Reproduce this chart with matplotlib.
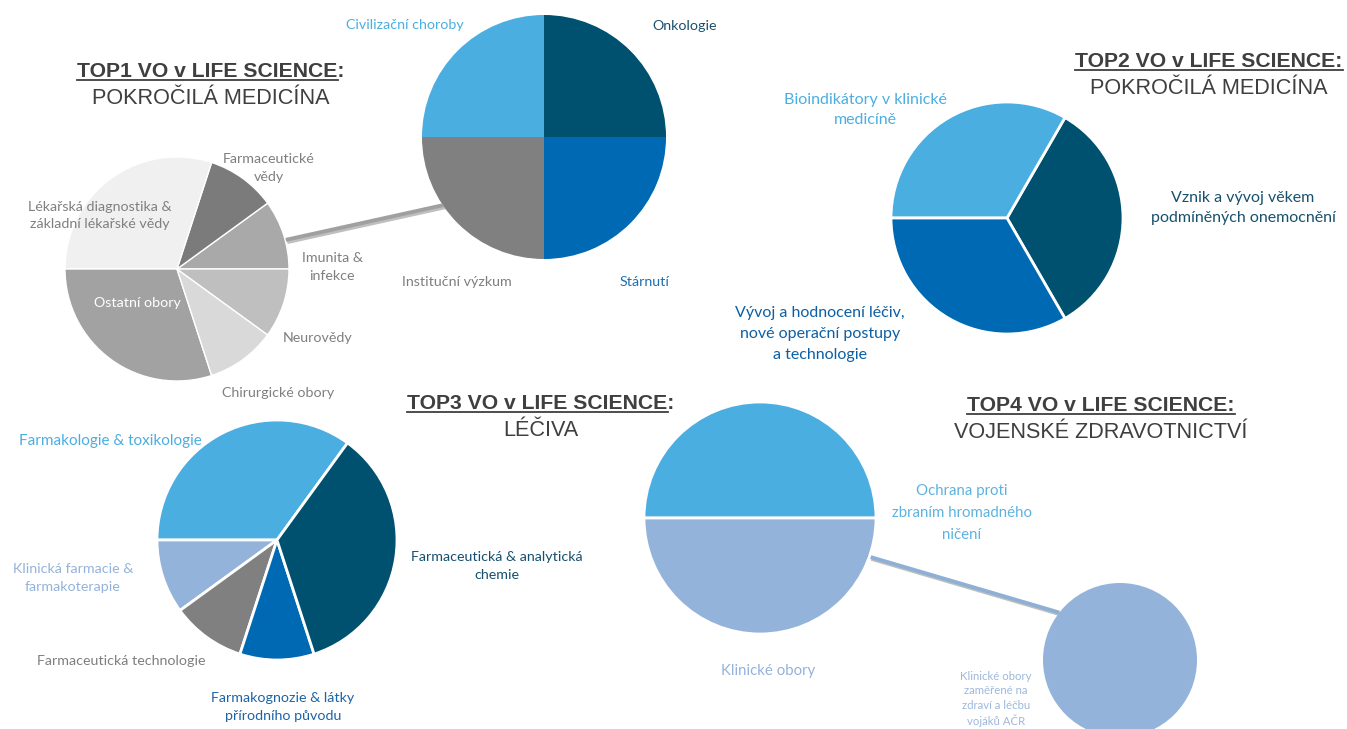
import numpy as np
import matplotlib
matplotlib.use("Agg")
import matplotlib.pyplot as plt
import matplotlib.patheffects as pe

W, H = 1347, 729

# ---- data ----
top1_labels = ["Imunita &\ninfekce", "Farmaceutické\nvědy",
               "Lékařská diagnostika &\nzákladní lékařské vědy",
               "Ostatní obory", "Chirurgické obory", "Neurovědy"]
top1_values = [1, 1, 3, 3, 1, 1]

top1_detail_labels = ["Onkologie", "Civilizační choroby", "Instituční výzkum", "Stárnutí"]
top1_detail_values = [1, 1, 1, 1]

top2_labels = ["Vznik a vývoj věkem\npodmíněných onemocnění",
               "Bioindikátory v klinické\nmedicíně",
               "Vývoj a hodnocení léčiv,\nnové operační postupy\na technologie"]
top2_values = [1, 1, 1]

top3_labels = ["Farmakologie & toxikologie", "Klinická farmacie &\nfarmakoterapie",
               "Farmaceutická technologie", "Farmakognozie & látky\npřírodního původu",
               "Farmaceutická & analytická\nchemie"]
top3_values = [3.5, 1, 1, 1, 3.5]

top4_labels = ["Ochrana proti\nzbraním hromadného\nničení", "Klinické obory"]
top4_values = [1, 1]

top4_detail_labels = ["Klinické obory\nzaměřené na\nzdraví a léčbu\nvojáků AČR"]
top4_detail_values = [1]

title_heads = ["TOP1 VO v LIFE SCIENCE", "TOP2 VO v LIFE SCIENCE",
               "TOP3 VO v LIFE SCIENCE", "TOP4 VO v LIFE SCIENCE"]
title_subs = ["POKROČILÁ MEDICÍNA", "POKROČILÁ MEDICÍNA", "LÉČIVA", "VOJENSKÉ ZDRAVOTNICTVÍ"]

# ---- styles ----
LBLUE = "#4baee1"
NAVY = "#00506f"
BLUE = "#0069b4"
GRAY = "#808080"
PERI = "#94b3da"
TXT_GRAY = "#7f7f7f"
TITLE_C = "#3f3f3f"
LABEL_FONT = ["Lato", "DejaVu Sans"]
TITLE_FONT = ["Liberation Sans Narrow", "Liberation Sans", "DejaVu Sans"]

fig = plt.figure(figsize=(W / 100, H / 100), dpi=100)
ax = fig.add_axes([0, 0, 1, 1])
renderer = fig.canvas.get_renderer()


def pie(values, colors, cx, cy, r, start, lw=1.5, edge="white"):
    ax.pie(values, colors=colors, center=(cx, H - cy), radius=r,
           startangle=start, counterclock=True, frame=True,
           wedgeprops=dict(edgecolor=edge, linewidth=lw))


def label(s, x, y, color, size=10.3, ls=1.6, weight="normal"):
    ax.text(x, H - y, s, ha="center", va="center", fontsize=size, color=color,
            family=LABEL_FONT, linespacing=ls, fontweight=weight, zorder=5)


def connector(c1, r1, a1, c2, r2, a2, color):
    p1 = (c1[0] + r1 * np.cos(np.radians(a1)), H - c1[1] + r1 * np.sin(np.radians(a1)))
    p2 = (c2[0] + r2 * np.cos(np.radians(a2)), H - c2[1] + r2 * np.sin(np.radians(a2)))
    ax.plot([p1[0], p2[0]], [p1[1], p2[1]], color=color, lw=2.8, zorder=0.5,
            solid_capstyle="butt",
            path_effects=[pe.SimpleLineShadow(offset=(1.5, -1.5), alpha=0.25), pe.Normal()])


def text_width(s, **kw):
    t = ax.text(0, 0, s, **kw)
    w = t.get_window_extent(renderer).width
    t.remove()
    return w


def title(head, sub, cx, base, colon_line, size=15.25, sub_size=15.6):
    kw = dict(fontsize=size, fontweight="bold", family=TITLE_FONT, color=TITLE_C)
    full = text_width(head + ":", **kw)
    part = text_width(head, **kw)
    x0 = cx - full / 2
    ax.text(x0, H - base, head + ":", ha="left", va="baseline", **kw)
    x1 = x0 + (full if colon_line else part)
    ax.plot([x0, x1], [H - base - 3, H - base - 3], color=TITLE_C, lw=1.3)
    ax.text(cx, H - base - 27, sub, ha="center", va="baseline", fontsize=sub_size,
            family=TITLE_FONT, color=TITLE_C)


# TOP1: main pie and its detail pie
c1, r1 = (177, 269), 112
c1d, r1d = (544, 137), 122
connector(c1, r1, 15, c1d, r1d, 214, "#a0a0a0")
pie(top1_values, ["#a9a9a9", "#7b7b7b", "#f0f0f0", "#a2a2a2", "#d9d9d9", "#bfbfbf"],
    *c1, r1, 0, lw=1.0)
pie(top1_detail_values, [NAVY, LBLUE, GRAY, BLUE], *c1d, r1d, 0, lw=0)

label(top1_labels[0], 332, 267, TXT_GRAY)
label(top1_labels[1], 269, 168, TXT_GRAY)
label(top1_labels[2], 100, 215, TXT_GRAY, ls=1.5)
label(top1_labels[3], 137, 303, "white")
label(top1_labels[4], 278, 393, TXT_GRAY)
label(top1_labels[5], 318, 338, TXT_GRAY)
label(top1_detail_labels[0], 685, 26, "#1b4f6e")
label(top1_detail_labels[1], 405, 25, LBLUE)
label(top1_detail_labels[2], 457, 282, TXT_GRAY)
label(top1_detail_labels[3], 645, 282, "#1f6fb0")

# TOP2
pie(top2_values, [NAVY, LBLUE, BLUE], 1007, 218, 116, -60, lw=2)
label(top2_labels[0], 1243, 208, "#17506e", size=11.5, ls=1.62)
label(top2_labels[1], 865, 110, LBLUE, size=11.5, ls=1.62)
label(top2_labels[2], 820, 334, "#0b5fa4", size=11.5, ls=1.62)

# TOP3
pie(top3_values, [LBLUE, PERI, GRAY, BLUE, NAVY], 277, 540, 120, 54, lw=2)
label(top3_labels[0], 110, 441, LBLUE, size=11)
label(top3_labels[1], 73, 578, PERI)
label(top3_labels[2], 121, 661, TXT_GRAY)
label(top3_labels[3], 283, 707, "#1c64a6")
label(top3_labels[4], 497, 566, "#16506e")

# TOP4: main pie and its detail pie
c4, r4 = (760, 518), 116
c4d, r4d = (1120, 660), 77
connector(c4, r4, -19.5, c4d, r4d, 142, "#8fb0d6")
pie(top4_values, [LBLUE, PERI], *c4, r4, 0, lw=2)
pie(top4_detail_values, [PERI], *c4d, r4d, 0, lw=0)
label(top4_labels[0], 962, 513, "#5db3e0", size=10.8, ls=1.7)
label(top4_labels[1], 768, 671, PERI, size=10.8)
label(top4_detail_labels[0], 996, 699, "#9db8dc", size=8.2, ls=1.38)

# titles
title(title_heads[0], title_subs[0], 211, 77, False)
title(title_heads[1], title_subs[1], 1209, 67, True)
title(title_heads[2], title_subs[2], 541, 409, False)
title(title_heads[3], title_subs[3], 1101, 411, True)

ax.set_xlim(0, W)
ax.set_ylim(0, H)
ax.set_aspect("auto")
ax.axis("off")
fig.savefig("out.png", dpi=100, facecolor="white")
